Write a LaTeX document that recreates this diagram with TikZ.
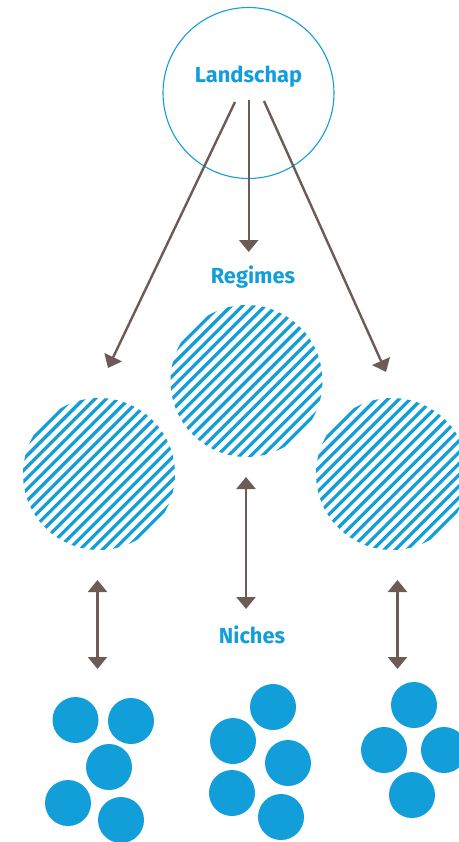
\documentclass[tikz,border=0pt]{standalone}
\usepackage{fontspec}
\setmainfont{Fira Sans}
\usetikzlibrary{arrows.meta}
\definecolor{nblue}{HTML}{129ED9}
\definecolor{arrowbrown}{HTML}{6E5B58}

% striped disc: #1 name, #2 centre
\newcommand{\hatchdisc}[2]{%
  \node[circle,minimum size=152pt,inner sep=0pt] (#1) at (#2) {};
  \begin{scope}
    \clip (#1.center) circle[radius=76pt];
    \foreach \k in {-10,...,10}
      \draw[stripe,shift={(#1.center)}]
        (\k*5.657-80,\k*5.657+80) -- (\k*5.657+80,\k*5.657-80);
  \end{scope}}

\begin{document}
\begin{tikzpicture}[x=1pt,y=-1pt,
  lbl/.style={text=nblue,font=\bfseries\fontsize{21.8}{26}\selectfont,anchor=base,inner sep=0pt},
  tip/.tip={Triangle[width=19pt,length=12pt]},
  link/.style={draw=arrowbrown,line width=2.4pt,-tip},
  twoway/.style={draw=arrowbrown,line width=2.4pt,tip-tip},
  dot/.style={circle,fill=nblue,minimum size=46pt,inner sep=0pt},
  stripe/.style={draw=nblue,line width=3.2pt}]
  \useasboundingbox (0,0) rectangle (458,842);

  % landscape level
  \node[circle,draw=nblue,line width=1.1pt,minimum size=171pt,inner sep=0pt] (land) at (248.5,93) {};
  \node[lbl] (landtxt) at (248.5,83) {Landschap};

  % regimes
  \hatchdisc{regL}{99,474}
  \hatchdisc{regM}{246.5,381}
  \hatchdisc{regR}{392,474}
  \node[lbl] (regtxt) at (253,283) {Regimes};

  % arrows from the landscape
  \coordinate (sL) at (235,102);
  \coordinate (sM) at (248.7,100);
  \coordinate (sR) at (264,101);
  \coordinate (eL) at (108,368);
  \coordinate (eM) at (248.7,252);
  \coordinate (eR) at (386,372);
  \draw[link] (sL) -- (eL);
  \draw[link] (sM) -- (eM);
  \draw[link] (sR) -- (eR);

  % regime <-> niche arrows
  \coordinate (aL1) at (97.5,580);
  \coordinate (aL2) at (97.5,669);
  \coordinate (aM1) at (246,477);
  \coordinate (aM2) at (246,609);
  \coordinate (aR1) at (397.5,580);
  \coordinate (aR2) at (397.5,669);
  \draw[twoway] (aL1) -- (aL2);
  \draw[twoway] (aM1) -- (aM2);
  \draw[twoway] (aR1) -- (aR2);

  \node[lbl] (nichetxt) at (252,643) {Niches};

  % niches
  \node[dot] (l1) at (75.5,720) {};
  \node[dot] (l2) at (131,721) {};
  \node[dot] (l3) at (109,767) {};
  \node[dot] (l4) at (68,803) {};
  \node[dot] (l5) at (121,820) {};

  \node[dot] (m1) at (273,707) {};
  \node[dot] (m2) at (233,741) {};
  \node[dot] (m3) at (288,763) {};
  \node[dot] (m4) at (232,793) {};
  \node[dot] (m5) at (281,817) {};

  \node[dot] (r1) at (414,705) {};
  \node[dot] (r2) at (384,750) {};
  \node[dot] (r3) at (444,750) {};
  \node[dot] (r4) at (412,795) {};
\end{tikzpicture}
\end{document}
